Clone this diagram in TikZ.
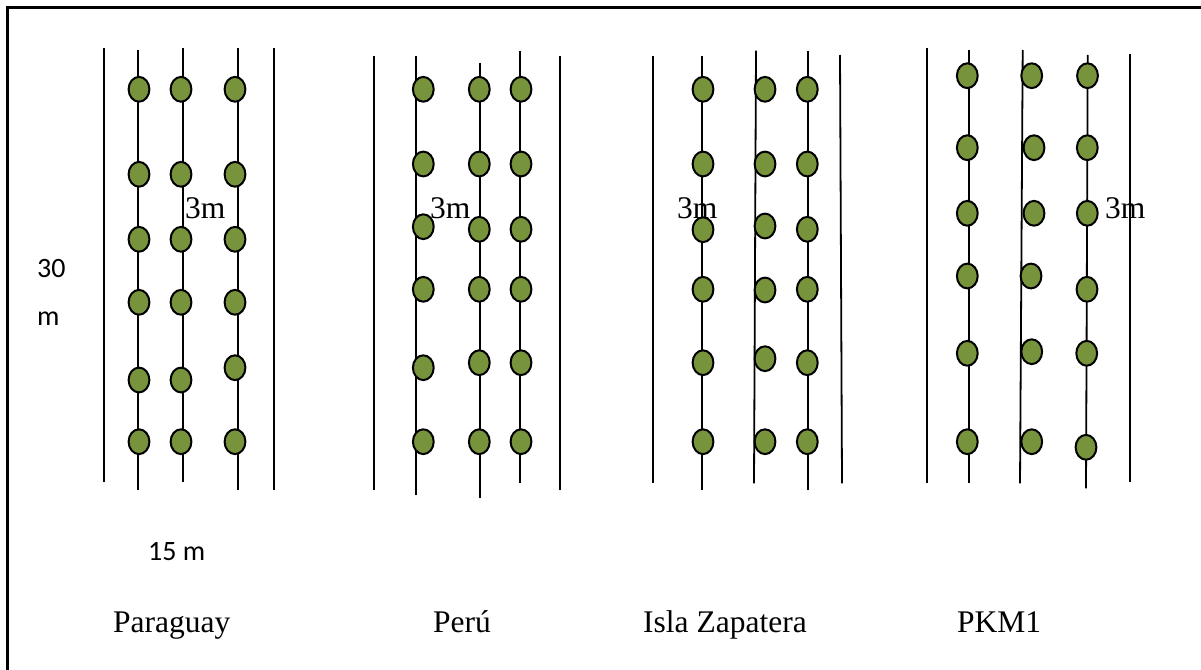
\documentclass[tikz,border=0pt]{standalone}
\usepackage{fontspec}
\setmainfont{Liberation Serif}
\newfontfamily\calib{Carlito}
\definecolor{olive}{HTML}{77933C}
\begin{document}
\begin{tikzpicture}[x=1pt,y=-1pt,
  rowline/.style={line width=1.8pt,black},
  frameline/.style={line width=2.3pt,black},
  plant/.style={draw=black,line width=2pt,fill=olive},
  serif/.style={anchor=base west,inner sep=0pt,font=\fontsize{31.5}{36}\selectfont},
  sans/.style={anchor=base west,inner sep=0pt,font=\calib\fontsize{28}{32}\selectfont}]
\useasboundingbox (0,0) rectangle (1201,669);
\draw[frameline] (7.5,690) -- (7.5,7.5) -- (1220,7.5);
% Paraguay
\draw[rowline] (104,48) -- (104,482);
\draw[rowline] (138.3,50) -- (138.3,490);
\draw[rowline] (183.3,48) -- (183.3,482);
\draw[rowline] (238.3,48) -- (238.3,490);
\draw[rowline] (274,48) -- (274,490);
\foreach \y in {89.3,174.3,239.3,302.3,380,441.7}{
  \draw[plant] (139,\y) ellipse (10.4 and 12.4);
  \draw[plant] (181,\y) ellipse (10.4 and 12.4);}
\foreach \y in {89.3,174.3,239.3,302.3,367.7,441.7}{
  \draw[plant] (235,\y) ellipse (10.4 and 12.4);}
% Peru
\draw[rowline] (374,56) -- (374,490);
\draw[rowline] (415.7,56) -- (415.7,495);
\draw[rowline] (480,62.7) -- (480,498);
\draw[rowline] (520.3,50.7) -- (520.3,483);
\draw[rowline] (560,56) -- (560,490);
\foreach \y in {89.3,164,226.7,289.3,367.7,441.7}{
  \draw[plant] (423.3,\y) ellipse (10.4 and 12.4);}
\foreach \y in {89.3,164,229.3,289.3,362.7,441.7}{
  \draw[plant] (479.3,\y) ellipse (10.4 and 12.4);
  \draw[plant] (521,\y) ellipse (10.4 and 12.4);}
% Isla Zapatera
\draw[rowline] (653.3,56) -- (653.3,483.3);
\draw[rowline] (702,56) -- (702,490);
\draw[rowline] (756,50.7) -- (754,483.3);
\draw[rowline] (807.7,50.7) -- (807.7,490);
\draw[rowline] (840,55) -- (842,483.3);
\foreach \y in {89.3,164,229.7,289.3,362.7,441.7}{
  \draw[plant] (703,\y) ellipse (10.4 and 12.4);}
\foreach \y in {89.3,164,226,290,358.7,441.7}{
  \draw[plant] (765,\y) ellipse (10.4 and 12.4);}
\foreach \y in {89.3,164,229.3,289.3,362.7,441.7}{
  \draw[plant] (807.3,\y) ellipse (10.4 and 12.4);}
% PKM1
\draw[rowline] (927.3,48.3) -- (927.3,483.3);
\draw[rowline] (969.3,50) -- (969.3,483.3);
\draw[rowline] (1022.7,50) -- (1020,483.3);
\draw[rowline] (1087.7,55) -- (1086,488.3);
\draw[rowline] (1130,54) -- (1130,481.7);
\foreach \y in {75.7,147.7,213.3,276,353.3,441.7}{
  \draw[plant] (967.3,\y) ellipse (10.4 and 12.4);}
\foreach \x/\y in {1031.7/75.7,1034/147.7,1034/213.3,1031/276,1031.7/351.7,1031.7/441.7}{
  \draw[plant] (\x,\y) ellipse (10.4 and 12.4);}
\foreach \x/\y in {1087.5/75.7,1087.3/147.7,1087.3/213.3,1087/289.3,1086.7/353.3,1086/447.3}{
  \draw[plant] (\x,\y) ellipse (10.4 and 12.4);}
% labels
\node[serif] (m1) at (185,218) {3m};
\node[serif] (m2) at (430,218) {3m};
\node[serif] (m3) at (677,218) {3m};
\node[serif] (m4) at (1105,218) {3m};
\node[sans] (l30) at (37,277) {30};
\node[sans] (lm) at (37,325) {m};
\node[sans] (l15) at (148,560) {15 m};
\node[serif] (par) at (113,632) {Paraguay};
\node[serif] (per) at (433,632) {Perú};
\node[serif] (isl) at (643,632) {Isla Zapatera};
\node[serif] (pkm) at (957,632) {PKM1};
\end{tikzpicture}
\end{document}
